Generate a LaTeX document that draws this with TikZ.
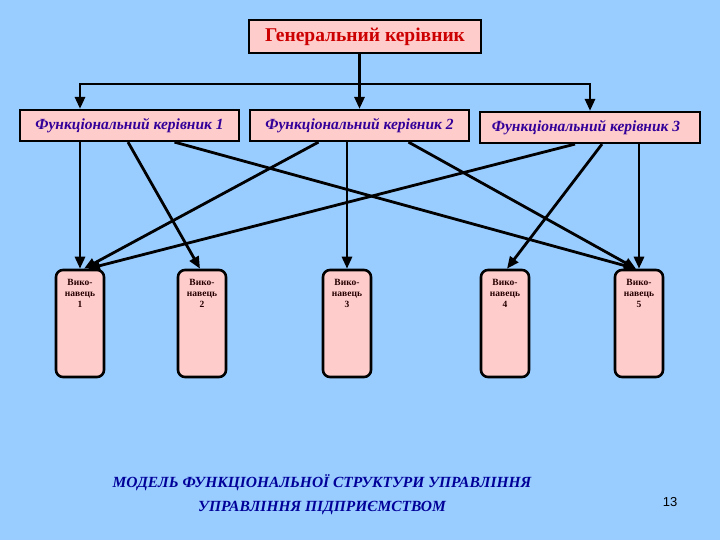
\documentclass[tikz,border=0pt]{standalone}
\usepackage{fontspec}
\setmainfont{Liberation Serif}
\newfontfamily\numfont{Liberation Sans}
\usetikzlibrary{arrows.meta,calc}
\definecolor{bgblue}{HTML}{99CCFF}
\definecolor{boxpink}{HTML}{FFCCCC}
\definecolor{titlered}{HTML}{CC0000}
\definecolor{funcblue}{HTML}{330099}
\definecolor{capblue}{HTML}{000099}
\tikzset{
  conn/.style={line width=2.8pt, -{Triangle[length=12pt,width=10pt]}},
  plainline/.style={line width=2.8pt},
  topbox/.style={draw=black, line width=2.2pt, fill=boxpink, minimum width=232pt, minimum height=33pt, inner sep=0pt,
     font=\fontsize{19.5}{22}\selectfont\bfseries, text=titlered},
  funcbox/.style={draw=black, line width=2.2pt, fill=boxpink, minimum height=31pt, inner sep=0pt,
     font=\fontsize{15.5}{18}\selectfont\bfseries\itshape, text=funcblue},
  execbox/.style={draw=black, line width=2.6pt, fill=boxpink, rounded corners=7pt, minimum width=48pt, minimum height=107pt,
     inner sep=0pt},
  exectext/.style={align=center, font=\fontsize{9.5}{11}\selectfont\bfseries, text=black!85!red, inner sep=0pt},
  caption/.style={align=center, font=\fontsize{15.5}{24}\selectfont\bfseries\itshape, text=capblue}
}
\begin{document}
\begin{tikzpicture}[x=1pt,y=-1pt]
\fill[bgblue] (0,0) rectangle (720,540);
\useasboundingbox (0,0) rectangle (720,540);

\node[topbox] (gen) at (365,36.5) {Генеральний керівник};

\node[funcbox, minimum width=219pt] (f1) at (129.5,125.5) {Функціональний керівник 1};
\node[funcbox, minimum width=219pt] (f2) at (359.5,125.5) {Функціональний керівник 2};
\node[funcbox, minimum width=220pt] (f3) at (590,127.5) {\hspace*{-8pt}Функціональний керівник 3};

\foreach \i/\x in {1/80,2/202,3/347,4/505,5/639}{
  \node[execbox] (e\i) at (\x,323.5) {};
  \node[exectext, anchor=north] (t\i) at ([yshift=-10pt]e\i.north) {Вико-\\навець\\\i};
}

% top distribution
\coordinate (hl) at (80,84);
\coordinate (hr) at (590,84);
\draw[plainline] (gen.south -| f2.north) -- (f2.north |- hl);
\draw[plainline, line cap=rect] (hl) -- (hr);
\draw[conn] (hl) -- (hl |- f1.north);
\draw[conn] (f2.north |- hl) -- (f2.north);
\draw[conn] (hr) -- (hr |- f3.north);

% functional to executors
\draw[conn] (f1.south -| e1.north) -- (e1.north);
\draw[conn] ([xshift=-1.5pt]f1.south) -- ([xshift=-2pt]e2.north);
\draw[conn] ([xshift=45pt]f1.south) -- ([xshift=-3pt]e5.north);
\draw[conn] ([xshift=-41pt]f2.south) -- ([xshift=4pt]e1.north);
\draw[conn] (f2.south -| e3.north) -- (e3.north);
\draw[conn] ([xshift=49pt]f2.south) -- ([xshift=-3pt]e5.north);
\draw[conn] ([xshift=-15pt]f3.south) -- ([xshift=8pt]e1.north);
\draw[conn] ([xshift=12pt]f3.south) -- ([xshift=2pt]e4.north);
\draw[conn] (f3.south -| e5.north) -- (e5.north);

\node[caption] (cap) at (322,495) {МОДЕЛЬ ФУНКЦІОНАЛЬНОЇ СТРУКТУРИ УПРАВЛІННЯ\\УПРАВЛІННЯ ПІДПРИЄМСТВОМ};
\node[font=\numfont\fontsize{13}{15}\selectfont] (num) at (670,502) {13};
\end{tikzpicture}
\end{document}
